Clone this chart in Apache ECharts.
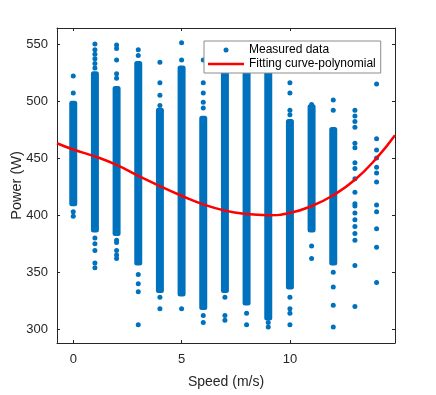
<!DOCTYPE html>
<html lang="en">
<head>
    <meta charset="UTF-8">
    <title>Power vs Speed</title>
    <script src="https://cdn.jsdelivr.net/npm/echarts@6/dist/echarts.min.js"></script>
    <style type="text/css">
    html, body { margin: 0; padding: 0; background: #fff; }
    #main { width: 436px; height: 395px; }
    </style>
</head>
<body>
<div id="main"></div>
<script type="text/javascript">
    // speed bins (m/s)
    var speeds = [0, 1, 2, 3, 4, 5, 6, 7, 8, 9, 10, 11, 12, 13, 14];
    // dense part of each column (W); null = no dense part
    var coreLow  = [410, 387, 384, 358, 334, 331, 319, 334, 323, 310, 337, 387, 358, null, null];
    var coreHigh = [498, 524, 511, 533, 492, 529, 485, 540, 540, 540, 482, 495, 475, null, null];
    // single points outside the dense part
    var extraPts = [
        [522, 507, 403, 399],
        [550, 545, 541, 537, 533, 529, 380, 375, 369, 358, 354],
        [549, 546, 536, 524, 520, 378, 376, 369, 365, 362],
        [545, 540, 348, 340, 333, 304],
        [534, 516, 505, 496, 328, 318],
        [551, 536, 318],
        [536, 516, 507, 499, 494, 312, 306],
        [328, 312, 308],
        [314, 304],
        [306, 302],
        [516, 507, 492, 488, 328, 318, 314, 304],
        [497, 373, 362],
        [501, 492, 350, 337, 321, 302],
        [492, 487, 482, 477, 463, 459, 446, 441, 432, 420, 410, 408, 402, 396, 390, 384, 378, 356, 320],
        [515, 467, 457, 450, 442, 437, 429, 409, 403, 388, 372, 341]
    ];
    // polynomial fit
    var fitX = [-0.75, 0, 1, 2, 3, 4, 5, 6, 7, 8, 9, 10, 11, 12, 13, 14, 14.85];
    var fitY = [463, 457.5, 451.5, 444, 434.5, 425.5, 417, 409.5, 404, 401, 400, 402, 408, 417.5, 431, 450, 470];

    var blue = '#0072BD';
    var axisColor = '#262626';
    var font = 'Liberation Sans, Arial, Helvetica, sans-serif';

    var bands = [];
    var pts = [];
    for (var i = 0; i < speeds.length; i++) {
        if (coreLow[i] != null) bands.push([speeds[i], coreLow[i], coreHigh[i]]);
        for (var j = 0; j < extraPts[i].length; j++) pts.push([speeds[i], extraPts[i][j]]);
    }
    var fit = fitX.map(function (x, k) { return [x, fitY[k]]; });

    var myChart = echarts.init(document.getElementById('main'));

    var xBase = {
        type: 'value', min: -0.75, max: 14.85, splitNumber: 3,
        axisLine: { show: true, onZero: false, lineStyle: { color: axisColor, width: 1 } },
        axisTick: { show: true, inside: true, length: 3, lineStyle: { color: axisColor } },
        splitLine: { show: false }
    };
    var yBase = {
        type: 'value', min: 288, max: 564, splitNumber: 5,
        axisLine: { show: true, onZero: false, lineStyle: { color: axisColor, width: 1 } },
        axisTick: { show: true, inside: true, length: 3, lineStyle: { color: axisColor } },
        splitLine: { show: false }
    };

    option = {
        animation: false,
        grid: { left: 57, right: 41, top: 28, bottom: 52, containLabel: false, outerBoundsMode: 'none' },
        xAxis: [
            Object.assign({}, xBase, {
                position: 'bottom',
                name: 'Speed (m/s)', nameLocation: 'middle', nameGap: 32, nameMoveOverlap: false,
                nameTextStyle: { color: axisColor, fontSize: 14, fontFamily: font },
                axisLabel: { color: axisColor, fontSize: 13, fontFamily: font, margin: 10,
                             showMinLabel: false, showMaxLabel: false }
            }),
            Object.assign({}, xBase, { position: 'top', axisLabel: { show: false } })
        ],
        yAxis: [
            Object.assign({}, yBase, {
                position: 'left',
                name: 'Power (W)', nameLocation: 'middle', nameGap: 33, nameMoveOverlap: false,
                nameTextStyle: { color: axisColor, fontSize: 14.5, fontFamily: font },
                axisLabel: { color: axisColor, fontSize: 13, fontFamily: font, margin: 9,
                             showMinLabel: false, showMaxLabel: false }
            }),
            Object.assign({}, yBase, { position: 'right', axisLabel: { show: false } })
        ],
        legend: {
            data: [
                { name: 'Measured data', icon: 'circle' },
                { name: 'Fitting curve-polynomial', icon: 'path://M0,0 L36,0 L36,2.5 L0,2.5 Z' }
            ],
            orient: 'vertical',
            left: 204, top: 41,
            itemWidth: 36, itemHeight: 5, itemGap: 2,
            padding: [3, 5, 3, 4],
            backgroundColor: '#fff',
            borderColor: '#8c8c8c', borderWidth: 1, borderRadius: 0,
            textStyle: { color: '#000', fontSize: 12, fontFamily: font }
        },
        series: [
            {
                name: 'Measured data',
                type: 'scatter',
                data: pts,
                symbolSize: 5,
                itemStyle: { color: blue, opacity: 1 },
                z: 2
            },
            {
                name: 'Measured data',
                type: 'custom',
                data: bands,
                clip: true,
                renderItem: function (params, api) {
                    var hi = api.coord([api.value(0), api.value(2)]);
                    var lo = api.coord([api.value(0), api.value(1)]);
                    return {
                        type: 'rect',
                        shape: { x: hi[0] - 4, y: hi[1] - 2.5, width: 8, height: lo[1] - hi[1] + 5, r: 2.5 },
                        style: { fill: blue }
                    };
                },
                z: 2
            },
            {
                name: 'Fitting curve-polynomial',
                type: 'line',
                data: fit,
                smooth: true,
                symbol: 'none',
                lineStyle: { color: '#ff0000', width: 2.5 },
                itemStyle: { color: '#ff0000' },
                z: 3
            }
        ]
    };
    myChart.setOption(option);
</script>
</body>
</html>
